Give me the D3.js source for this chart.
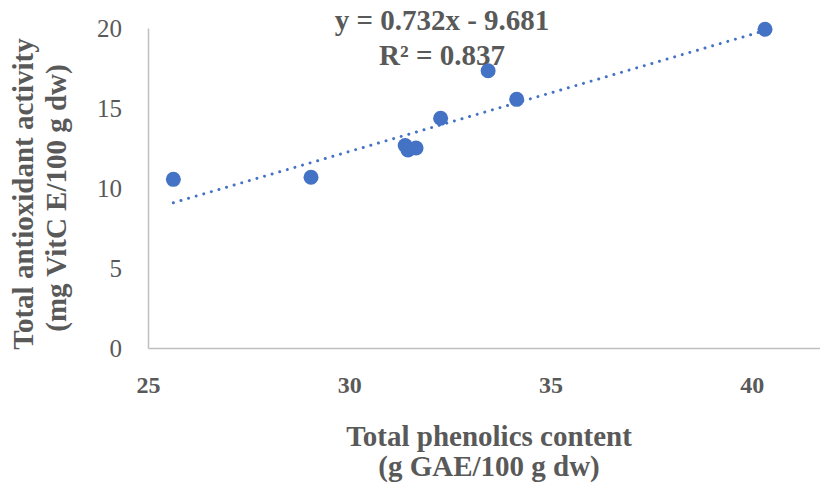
<!DOCTYPE html>
<html>
<head>
<meta charset="utf-8">
<script src="https://cdn.jsdelivr.net/npm/d3@7"></script>
<style>
  html, body { margin: 0; padding: 0; background: #fff; }
  svg { display: block; }
</style>
</head>
<body>
<svg id="chart" width="820" height="485"></svg>
<script>
// Data
const phenolics = [25.63, 29.05, 31.39, 31.46, 31.66, 32.27, 33.45, 34.16, 40.33];
const antioxidant = [10.54, 10.67, 12.66, 12.38, 12.50, 14.36, 17.33, 15.54, 19.92];
const xTicks = [25, 30, 35, 40];
const yTicks = [0, 5, 10, 15, 20];
const slope = 0.732, intercept = -9.681;
const eqLabel = "y = 0.732x - 9.681";
const r2Label = "R² = 0.837";
const xTitle = ["Total phenolics content", "(g GAE/100 g dw)"];
const yTitle = ["Total antioxidant activity", "(mg VitC E/100 g dw)"];

const FONT = "'Liberation Serif'";
const TXT = "#595959";
const svg = d3.select("#chart");
const plotLeft = 148, plotBottom = 348, plotTop = 28;

const x = d3.scaleLinear().domain([25, 45]).range([plotLeft, plotLeft + 20 * 40.25]);
const y = d3.scaleLinear().domain([0, 20]).range([plotBottom, plotTop]);

// Axes
const xAxis = svg.append("g").attr("transform", `translate(0,${plotBottom})`)
  .call(d3.axisBottom(x).tickValues(xTicks).tickSize(0).tickPadding(28).tickSizeOuter(0));
xAxis.select(".domain").attr("stroke", "#BFBFBF").attr("stroke-width", 1.5);
xAxis.selectAll("text").style("font-family", FONT).style("font-size", "24px")
  .style("font-weight", "bold").style("fill", TXT);

const yAxis = svg.append("g").attr("transform", `translate(${plotLeft},0)`)
  .call(d3.axisLeft(y).tickValues(yTicks).tickSize(0).tickPadding(26).tickSizeOuter(0));
yAxis.select(".domain").attr("stroke", "#BFBFBF").attr("stroke-width", 1.5);
yAxis.selectAll("text").style("font-family", FONT).style("font-size", "25px")
  .style("fill", TXT);

// Trendline
const xMin = d3.min(phenolics), xMax = d3.max(phenolics);
svg.append("path")
  .datum([xMin, xMax])
  .attr("d", d3.line().x(d => x(d)).y(d => y(slope * d + intercept)))
  .attr("fill", "none").attr("stroke", "#4472C4").attr("stroke-width", 3)
  .attr("stroke-linecap", "round").attr("stroke-dasharray", "0.01 7.9");

// Points
svg.append("g").selectAll("circle")
  .data(phenolics.map((v, i) => [v, antioxidant[i]]))
  .join("circle")
  .attr("cx", d => x(d[0])).attr("cy", d => y(d[1])).attr("r", 7.5)
  .attr("fill", "#4472C4");

function label(parent, tx, ty, str, size) {
  return parent.append("text").attr("x", tx).attr("y", ty).attr("text-anchor", "middle")
    .style("font-family", FONT).style("font-size", size + "px").style("font-weight", "bold")
    .style("fill", TXT).text(str);
}

// Equation labels
label(svg, 442, 30, eqLabel, 29);
label(svg, 442, 65, r2Label, 29);

// X title
label(svg, 489, 446, xTitle[0], 29);
label(svg, 489, 476, xTitle[1], 29);

// Y title
const yt = svg.append("g").attr("transform", "translate(0,194) rotate(-90)");
label(yt, 0, 33, yTitle[0], 29);
label(yt, -4, 66, yTitle[1], 29);
</script>
</body>
</html>
